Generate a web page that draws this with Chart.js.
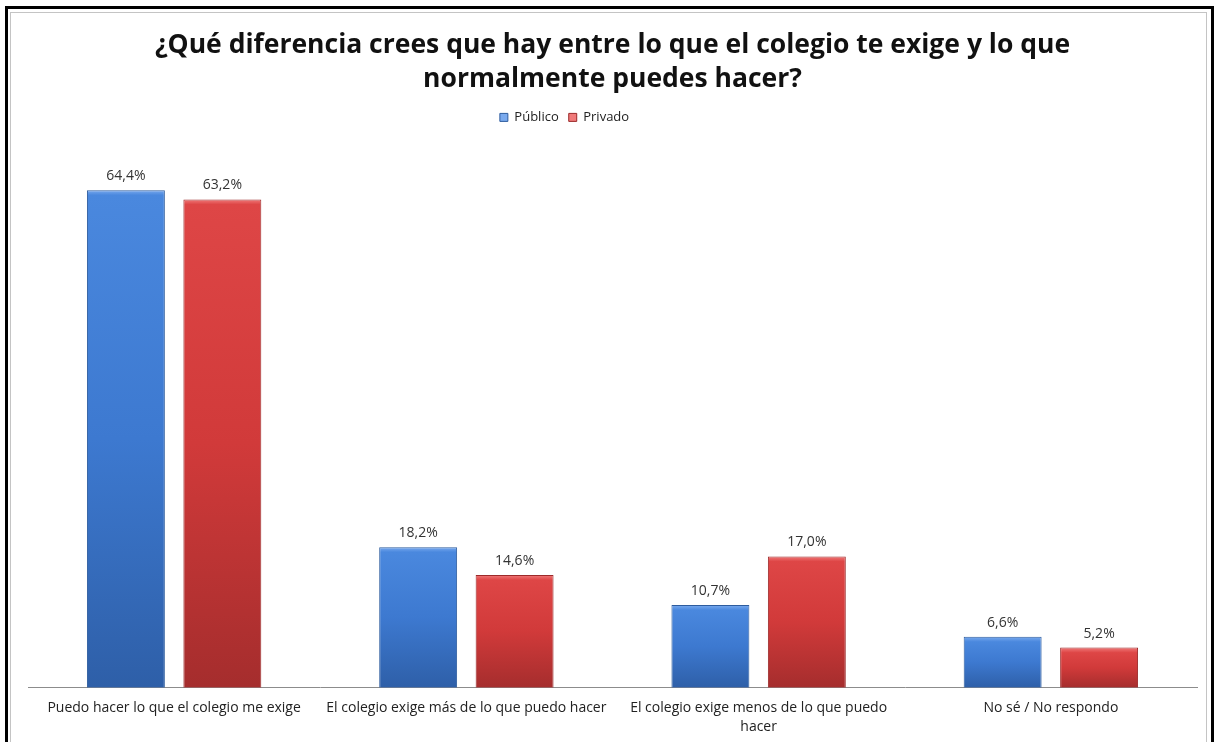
<!DOCTYPE html>
<html>
<head>
<meta charset="utf-8">
<script src="https://cdn.jsdelivr.net/npm/chart.js@4.4.1/dist/chart.umd.min.js"></script>
<style>
    body { margin: 0; background: #fff; }
    .frame { position: absolute; left: 5px; top: 6px; width: 1203px; height: 760px; border: 3px solid #000; }
    .inner { position: absolute; left: 10px; top: 12px; width: 1195px; height: 760px; border: 1px solid #c4c4c4; }
    canvas { position: absolute; left: 0; top: 0; }
</style>
</head>
<body>
<div class="frame"></div>
<div class="inner"></div>
<canvas id="chartDiferencia" width="1217" height="742"></canvas>
<script>
const titleLines = ["¿Qué diferencia crees que hay entre lo que el colegio te exige y lo que", "normalmente puedes hacer?"];
const categories = [
    "Puedo hacer lo que el colegio me exige",
    "El colegio exige más de lo que puedo hacer",
    ["El colegio exige menos de lo que puedo", "hacer"],
    "No sé / No respondo"
];
const seriesNames = ["Público", "Privado"];
const publico = [64.4, 18.2, 10.7, 6.6];
const privado = [63.2, 14.6, 17.0, 5.2];

const fontName = "'Open Sans', 'Liberation Sans', sans-serif";

function barGradient(top, bottom) {
    return function(ctx) {
        let chart = ctx.chart;
        if (!chart.chartArea || ctx.type !== 'data') return top[2];
        let yScale = chart.scales.y;
        let y0 = yScale.getPixelForValue(ctx.raw);
        let y1 = yScale.getPixelForValue(0);
        let g = chart.ctx.createLinearGradient(0, y0, 0, y1);
        g.addColorStop(0, top[0]);
        g.addColorStop(Math.min(0.3, 5 / (y1 - y0)), top[1]);
        g.addColorStop(0.5, top[2]);
        g.addColorStop(1, bottom);
        return g;
    };
}

// value labels above every bar, decimal comma
const valueLabels = {
    id: 'valueLabels',
    afterDatasetsDraw(chart) {
        let c = chart.ctx;
        c.save();
        c.font = "14px " + fontName;
        c.fillStyle = "#333";
        c.textAlign = "center";
        c.textBaseline = "alphabetic";
        chart.data.datasets.forEach((ds, i) => {
            chart.getDatasetMeta(i).data.forEach((bar, j) => {
                let txt = ds.data[j].toFixed(1).replace('.', ',') + '%';
                c.fillText(txt, bar.x, bar.y - 10);
            });
        });
        c.restore();
    }
};

// extra room under the legend, and legend a bit left of centre like the original
const legendSpace = {
    id: 'legendSpace',
    beforeInit(chart) {
        let fitOrig = chart.legend.fit;
        chart.legend.fit = function() {
            fitOrig.bind(chart.legend)();
            this.height += 13;
        };
    },
    afterLayout(chart) {
        chart.legend.left -= 48;
        chart.legend.right -= 48;
    }
};

new Chart(document.getElementById('chartDiferencia'), {
    type: 'bar',
    data: {
        labels: categories,
        datasets: [{
            label: seriesNames[0],
            data: publico,
            backgroundColor: barGradient(['#7aaaee', '#4a88de', '#3d79d0'], '#2e5fa8'),
            borderColor: '#2d5c9e',
            borderWidth: 1,
            categoryPercentage: 0.66,
            barPercentage: 0.808
        }, {
            label: seriesNames[1],
            data: privado,
            backgroundColor: barGradient(['#f07a7a', '#de4646', '#d13a3a'], '#a52d2d'),
            borderColor: '#9c2a2a',
            borderWidth: 1,
            categoryPercentage: 0.66,
            barPercentage: 0.808
        }]
    },
    options: {
        responsive: false,
        animation: false,
        layout: {
            padding: { left: 28, right: 20, top: 18, bottom: -5 }
        },
        scales: {
            x: {
                grid: { display: false, drawTicks: false },
                border: { color: '#8c8c8c', width: 1 },
                ticks: {
                    color: '#222',
                    font: { family: fontName, size: 14, lineHeight: 1.4 },
                    maxRotation: 0,
                    autoSkip: false,
                    padding: 10
                }
            },
            y: {
                display: false,
                min: 0,
                max: 70
            }
        },
        plugins: {
            title: {
                display: true,
                text: titleLines,
                color: '#111',
                font: { family: fontName, size: 26.5, weight: 'bold', lineHeight: 1.3 },
                padding: { top: 10, bottom: 4 }
            },
            legend: {
                display: true,
                position: 'top',
                labels: {
                    boxWidth: 8,
                    boxHeight: 8,
                    color: '#222',
                    font: { family: fontName, size: 13 },
                    padding: 10
                }
            },
            tooltip: { enabled: false }
        }
    },
    plugins: [valueLabels, legendSpace]
});
</script>
</body>
</html>
